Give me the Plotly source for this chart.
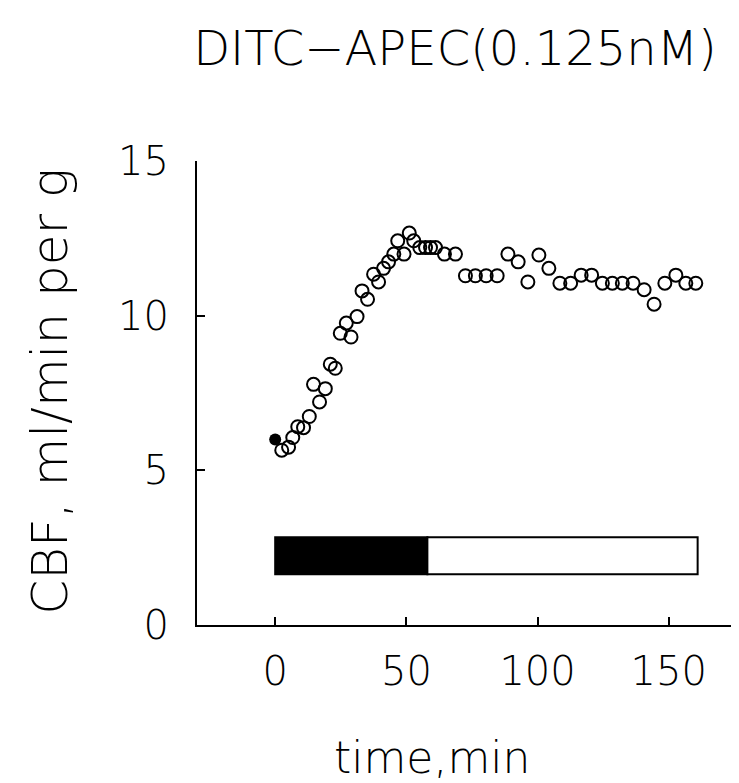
import plotly.graph_objects as go

# ---- data ----
time_min = [2.5, 5.1, 6.7, 8.6, 10.8, 13.0, 14.6, 16.9, 19.1, 21.0, 22.9, 24.8, 27.1, 28.9,
            31.2, 33.1, 35.2, 37.5, 39.4, 41.3, 43.2, 45.2, 46.7, 49.1, 51.1, 52.8, 55.1,
            57.3, 59.2, 61.1, 64.5, 68.7, 72.5, 76.3, 80.4, 84.6, 88.7, 92.6, 96.3, 100.5,
            104.3, 108.5, 112.6, 116.6, 120.6, 124.7, 128.5, 132.3, 136.4, 140.6, 144.4,
            148.5, 152.7, 156.5, 160.3]
cbf = [5.65, 5.75, 6.06, 6.41, 6.38, 6.74, 7.78, 7.21, 7.64, 8.43, 8.30, 9.43, 9.76, 9.31,
       9.97, 10.80, 10.53, 11.34, 11.09, 11.53, 11.74, 11.99, 12.42, 11.99, 12.67, 12.42, 12.2,
       12.2, 12.2, 12.2, 11.99, 11.99, 11.29, 11.29, 11.29, 11.29, 11.99, 11.74, 11.09, 11.96,
       11.53, 11.05, 11.05, 11.31, 11.31, 11.05, 11.05, 11.05, 11.05, 10.84, 10.37,
       11.05, 11.31, 11.05, 11.05]
baseline_time = [0.0]
baseline_cbf = [6.0]

# infusion bar: black = DITC-APEC infusion, white = washout
bar_start = [0, 58]
bar_end = [58, 161]
bar_fill = ["black", "white"]
bar_level = 2.24
bar_thickness = 1.2

x_ticks = [0, 50, 100, 150]
y_ticks = [0, 5, 10, 15]
title_text = "DITC\u2212APEC(0.125nM)"
x_title = "time,min"
y_title = "CBF, ml/min per g"

FONT = "DejaVu Sans ExtraLight, DejaVu Sans Light, DejaVu Sans"
OFF = 8  # default page margin of the html body
W, H = 739 - OFF, 783 - OFF

fig = go.Figure()

for s, e, c in zip(bar_start, bar_end, bar_fill):
    fig.add_trace(go.Bar(
        x=[e - s], base=[s], y=[bar_level], orientation="h", width=bar_thickness,
        marker=dict(color=c, line=dict(color="black", width=2)),
        showlegend=False, hoverinfo="skip"))

fig.add_trace(go.Scatter(
    x=time_min, y=cbf, mode="markers",
    marker=dict(symbol="circle-open", size=13, color="black", line=dict(width=2)),
    showlegend=False))
fig.add_trace(go.Scatter(
    x=baseline_time, y=baseline_cbf, mode="markers",
    marker=dict(symbol="circle", size=12, color="black"),
    showlegend=False))

pl, pt = 197 - OFF, 161 - OFF
pw = 737 - 197
ph = 625.5 - 161

fig.update_layout(
    width=W, height=H,
    margin=dict(l=pl, r=W - pl - pw, t=pt, b=H - pt - ph, pad=0),
    paper_bgcolor="white", plot_bgcolor="white",
    barmode="overlay",
    font=dict(family=FONT, color="black", size=40),
    title=dict(text=title_text, x=(455 - OFF) / W, xanchor="center", xref="container",
               y=1 - (48 - OFF) / H, yanchor="middle", yref="container",
               font=dict(family=FONT, size=48, color="black")),
    xaxis=dict(range=[-29.8, 176], tickvals=x_ticks, ticks="inside", ticklen=8,
               tickwidth=2, tickcolor="black", showline=True, linecolor="black",
               linewidth=2, showgrid=False, zeroline=False,
               tickfont=dict(family=FONT, size=40), ticklabelstandoff=10),
    yaxis=dict(range=[0, 15], tickvals=y_ticks, ticks="inside", ticklen=8,
               tickwidth=2, tickcolor="black", showline=True, linecolor="black",
               linewidth=2, showgrid=False, zeroline=False,
               tickfont=dict(family=FONT, size=40), ticklabelstandoff=18),
    annotations=[
        dict(text=x_title, xref="paper", yref="paper", x=(432 - 197) / pw,
             y=-(758 - 625.5) / ph, xanchor="center", yanchor="middle",
             showarrow=False, font=dict(family=FONT, size=44)),
        dict(text=y_title, xref="paper", yref="paper", x=-(197 - 50) / pw,
             y=(625.5 - 392) / ph, xanchor="center", yanchor="middle", textangle=-90,
             showarrow=False, font=dict(family=FONT, size=50)),
    ],
)

fig.write_html("out.html")
